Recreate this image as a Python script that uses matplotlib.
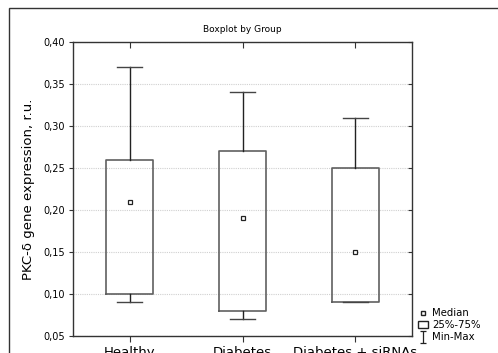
import matplotlib
matplotlib.use("Agg")
import matplotlib.pyplot as plt
from matplotlib.lines import Line2D
from matplotlib.patches import Patch, Rectangle
from matplotlib.path import Path

groups = ["Healthy", "Diabetes", "Diabetes + siRNAs"]
mins = [0.09, 0.07, 0.09]
q1s = [0.10, 0.08, 0.09]
medians = [0.21, 0.19, 0.15]
q3s = [0.26, 0.27, 0.25]
maxs = [0.37, 0.34, 0.31]
yticks = [0.05, 0.10, 0.15, 0.20, 0.25, 0.30, 0.35, 0.40]

fig = plt.figure(figsize=(4.98, 3.53), dpi=100)
# outer frame of the exported graph window
fig.add_artist(Rectangle((9 / 498, -0.05), 1.0, 1 - 8 / 353 + 0.05,
                         transform=fig.transFigure, fill=False,
                         edgecolor="#333333", linewidth=1.0))

ax = fig.add_axes([0.1466, 0.0482, 0.6807, 0.833])

stats = []
for g, lo, a, m, b, hi in zip(groups, mins, q1s, medians, q3s, maxs):
    stats.append(dict(label=g, whislo=lo, q1=a, med=m, q3=b, whishi=hi))

ax.bxp(stats, positions=range(len(groups)), widths=0.41, showfliers=False,
       boxprops=dict(color="#606060", linewidth=1.2),
       whiskerprops=dict(color="#222222", linewidth=1.0),
       capprops=dict(color="#444444", linewidth=1.0),
       medianprops=dict(linestyle="none"), capwidths=0.22)
ax.plot(range(len(groups)), medians, linestyle="none", marker="s",
        markersize=3.2, markerfacecolor="white", markeredgecolor="#222222",
        markeredgewidth=0.9)

ax.set_xlim(-0.5, 2.5)
ax.set_ylim(0.05, 0.40)
ax.set_yticks(yticks)
ax.set_yticklabels([f"{v:.2f}".replace(".", ",") for v in yticks], fontsize=7)
ax.set_xticks(range(len(groups)))
ax.set_xticklabels(groups, fontsize=9.5)
ax.tick_params(axis="both", direction="out", length=3, pad=3,
               color="#333333")
ax.tick_params(axis="x", length=4)
# inward ticks on the top and right edges, as in the original export
for t in ax.yaxis.get_major_ticks():
    t.tick2line.set_visible(True)
    t.tick2line.set_marker(0)
    t.tick2line.set_markersize(3)
for t in ax.xaxis.get_major_ticks():
    t.tick2line.set_visible(True)
    t.tick2line.set_marker(3)
    t.tick2line.set_markersize(4)
ax.grid(axis="y", color="#d0d0d0", linestyle=(0, (1, 1)), linewidth=0.8)
ax.set_axisbelow(True)
for s in ax.spines.values():
    s.set_color("#333333")
    s.set_linewidth(1.0)

ax.set_ylabel("PKC-δ gene expression, r.u.", fontsize=9.5, labelpad=6)
ax.set_title("Boxplot by Group", fontsize=6.5, pad=7)

minmax = Path([(-0.5, 1), (0.5, 1), (0, 1), (0, -1), (-0.5, -1), (0.5, -1)],
              [Path.MOVETO, Path.LINETO, Path.MOVETO, Path.LINETO,
               Path.MOVETO, Path.LINETO])
handles = [
    Line2D([], [], linestyle="none", marker="s", markersize=3.2,
           markerfacecolor="white", markeredgecolor="#222222"),
    Patch(facecolor="white", edgecolor="#222222"),
    Line2D([], [], linestyle="none", marker=minmax, markersize=9,
           markeredgecolor="#222222", markeredgewidth=0.9),
]
fig.legend(handles, ["Median", "25%-75%", "Min-Max"], loc="lower left",
           bbox_to_anchor=(0.825, 0.01), frameon=False, fontsize=7.3,
           handlelength=1.0, handletextpad=0.4, labelspacing=0.2,
           borderpad=0.2)

fig.savefig("out.png", dpi=100)
